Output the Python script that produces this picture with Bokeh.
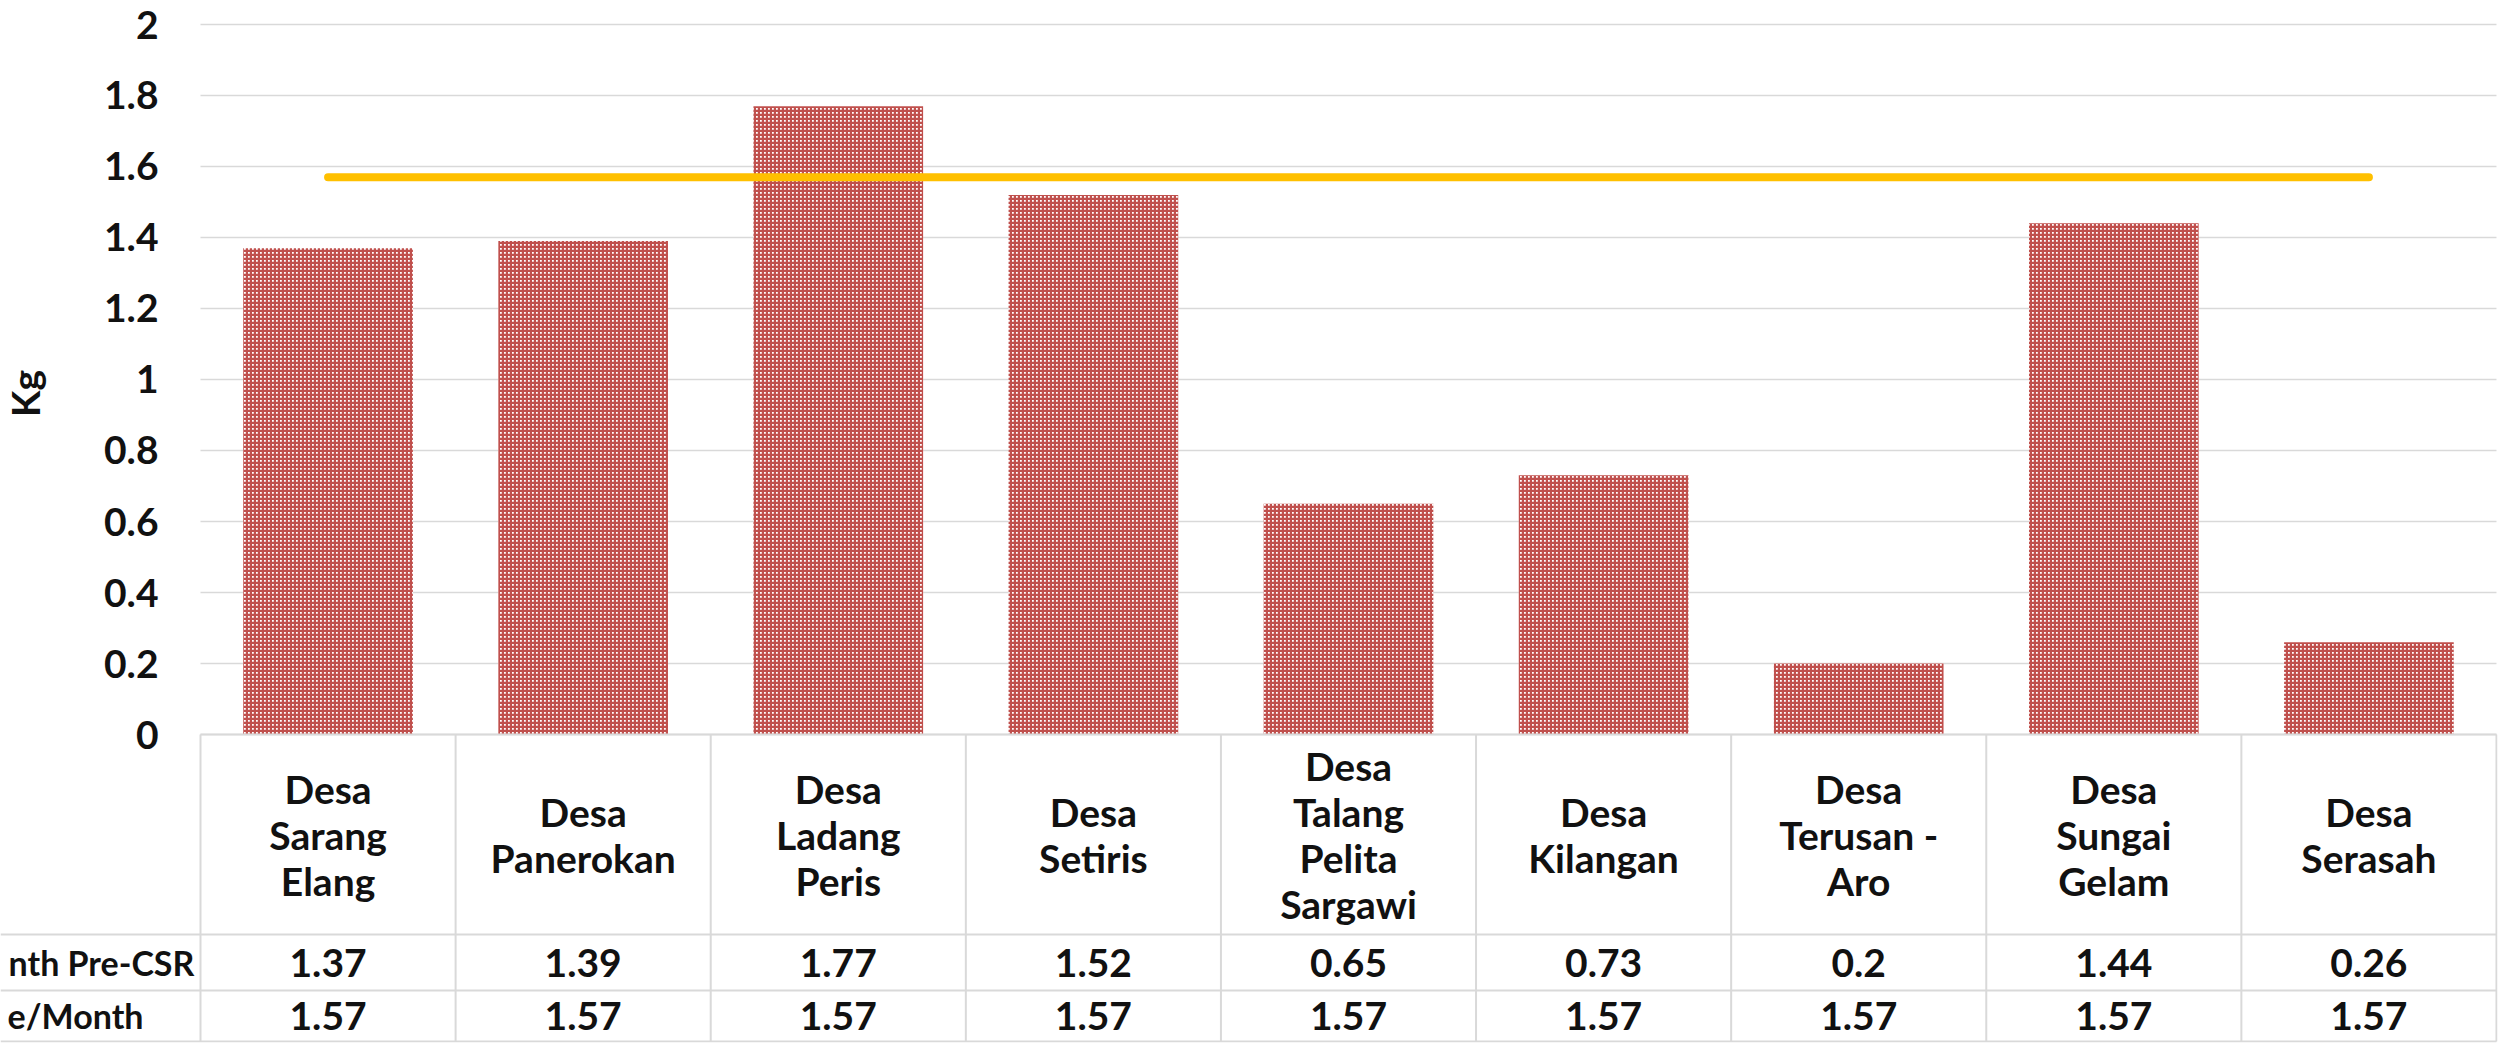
from bokeh.plotting import figure
from bokeh.models import Range1d, FixedTicker, CustomJSTickFormatter
from bokeh.core.properties import value
from bokeh.embed import file_html
from bokeh.resources import INLINE
import math

# ---------------- data ----------------
categories = ["Desa Sarang Elang", "Desa Panerokan", "Desa Ladang Peris", "Desa Setiris",
              "Desa Talang Pelita Sargawi", "Desa Kilangan", "Desa Terusan - Aro",
              "Desa Sungai Gelam", "Desa Serasah"]
category_labels = ["Desa\nSarang\nElang", "Desa\nPanerokan", "Desa\nLadang\nPeris", "Desa\nSetiris",
                   "Desa\nTalang\nPelita\nSargawi", "Desa\nKilangan", "Desa\nTerusan -\nAro",
                   "Desa\nSungai\nGelam", "Desa\nSerasah"]
pre_csr = [1.37, 1.39, 1.77, 1.52, 0.65, 0.73, 0.2, 1.44, 0.26]
average = [1.57, 1.57, 1.57, 1.57, 1.57, 1.57, 1.57, 1.57, 1.57]
row_names = ["nth Pre-CSR", "e/Month"]
y_ticks = [0, 0.2, 0.4, 0.6, 0.8, 1.0, 1.2, 1.4, 1.6, 1.8, 2.0]
y_title = "Kg"

# ---------------- style ----------------
FONT = value("Lato")
FS = "39px"
GRID = "#D9D9D9"
RED = "#C0504D"
YELLOW = "#FFC000"
INK = "#111111"

W, H = 2499, 1043
Y_HDR, Y_R1, Y_R2 = -0.5634, -0.7211, -0.8648   # table row bottoms (data units)
X_LEFT = -0.784                                  # left canvas edge in data units
n = len(categories)
xs = [i + 0.5 for i in range(n)]                 # category centres

p = figure(width=W, height=H, output_backend="svg", toolbar_location=None,
           x_range=Range1d(X_LEFT, n + 0.004), y_range=Range1d(-0.8676, 2.0676),
           min_border_top=0, min_border_bottom=1, min_border_left=0, min_border_right=2)
p.outline_line_color = None
p.background_fill_color = "white"
p.border_fill_color = "white"
p.xaxis.visible = False
p.xgrid.visible = False
p.ygrid.visible = False

ticker = FixedTicker(ticks=y_ticks)
p.yaxis.fixed_location = 0
p.yaxis.ticker = ticker
p.yaxis.formatter = CustomJSTickFormatter(code="return String(Number(tick.toFixed(1)));")
p.yaxis.axis_line_color = None
p.yaxis.major_tick_line_color = None
p.yaxis.minor_tick_line_color = None
p.yaxis.major_tick_out = 0
p.yaxis.major_tick_in = 0
p.yaxis.major_label_standoff = 42
p.yaxis.major_label_text_font = "Lato"
p.yaxis.major_label_text_font_style = "bold"
p.yaxis.major_label_text_font_size = FS
p.yaxis.major_label_text_color = INK

# horizontal gridlines (plot area only)
p.segment(x0=[0] * len(y_ticks), x1=[n] * len(y_ticks), y0=y_ticks, y1=y_ticks,
          line_color=GRID, line_width=1.5)

# bars
p.vbar(x=xs, top=pre_csr, bottom=0, width=0.665, fill_color="white",
       hatch_pattern="+", hatch_color=RED, hatch_scale=4, hatch_weight=2.4,
       line_color=None)

# average line
p.line(x=xs, y=average, line_color=YELLOW, line_width=8, line_cap="round")

# data-table grid
hx0, hx1, hy0, hy1 = [0], [n], [0], [0]
for yy in [Y_HDR, Y_R1, Y_R2]:
    hx0.append(X_LEFT); hx1.append(n); hy0.append(yy); hy1.append(yy)
for i in range(n + 1):
    hx0.append(i); hx1.append(i); hy0.append(0); hy1.append(Y_R2)
p.segment(x0=hx0, y0=hy0, x1=hx1, y1=hy1, line_color=GRID, line_width=2)

txt = dict(text_baseline="middle", text_font=FONT, text_font_style="bold",
           text_font_size=FS, text_color=INK)
p.text(x=xs, y=[Y_HDR / 2] * n, text=category_labels, text_align="center",
       text_line_height=1.0, **txt)
p.text(x=xs, y=[(Y_HDR + Y_R1) / 2] * n, text=[str(v) for v in pre_csr],
       text_align="center", **txt)
p.text(x=xs, y=[(Y_R1 + Y_R2) / 2] * n, text=[str(v) for v in average],
       text_align="center", **txt)

# row labels of the data table (their left part is cut off in the original)
p.text(x=[-0.024, -0.2234], y=[(Y_HDR + Y_R1) / 2, (Y_R1 + Y_R2) / 2], text=row_names,
       text_align="right", text_baseline="middle", text_font=FONT, text_font_style="bold",
       text_font_size="34px", text_color=INK)

# y title (rotated, reads bottom to top)
p.text(x=[-0.688], y=[0.9606], text=[y_title], angle=math.pi / 2, text_align="center",
       text_baseline="alphabetic", text_font=FONT, text_font_style="bold",
       text_font_size=FS, text_color=INK)

open("out.html", "w").write(file_html(p, INLINE))
